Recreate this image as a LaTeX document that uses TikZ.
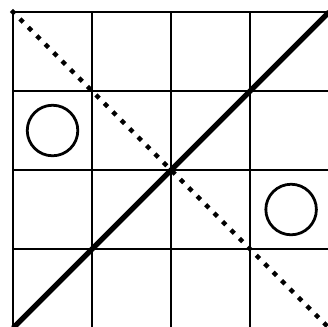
\documentclass[tikz,border=0pt]{standalone}
\usepackage{tikz}

\begin{document}
\begin{tikzpicture}[line join=round]
	\clip (-0.165,0.025) rectangle (3.987,4.152);
	\draw[line width=0.8pt] (0,0) grid (4,4);
	\draw[line width=1.9pt] (0,0)--(4,4);
	\draw[line width=1.6pt, line cap=rect, dash pattern=on 0.1pt off 4.2pt] (0,4)--(4,0);
	\draw[line width=1pt] (0.5,2.5) circle (0.32);
	\draw[line width=1pt] (3.52,1.5) circle (0.32);
\end{tikzpicture}
\end{document}
